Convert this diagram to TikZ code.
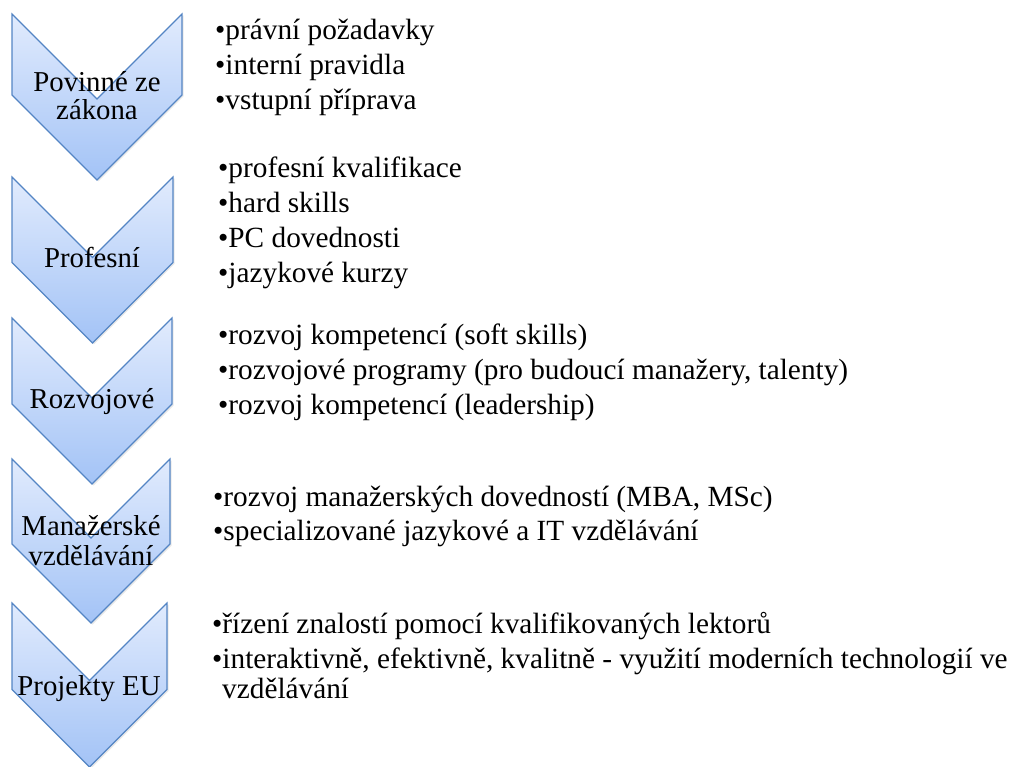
\documentclass[tikz,border=0pt]{standalone}
\usepackage{fontspec}
\setmainfont{Liberation Serif}
\usetikzlibrary{shadows}
\definecolor{chevline}{RGB}{84,133,196}
\definecolor{chevtop}{RGB}{225,235,253}
\definecolor{chevbot}{RGB}{163,195,246}
% downward chevron: left x, top y, width, height
\newcommand\downchevron[4]{%
  \pgfmathsetmacro\hw{#3/2}%
  \path[chevshape] (#1,#2) -- (#1+\hw,#2+\hw) -- (#1+#3,#2)
    -- (#1+#3,#2+#4-\hw) -- (#1+\hw,#2+#4) -- (#1,#2+#4-\hw) -- cycle;}
\begin{document}
\begin{tikzpicture}[x=1pt,y=-1pt,
  chevshape/.style={draw=chevline, line width=1.2pt, line join=miter,
    top color=chevtop, bottom color=chevbot,
    drop shadow={opacity=0.18, shadow xshift=1.5pt, shadow yshift=-1.5pt}},
  chevlabel/.style={font=\fontsize{28.8}{29}\selectfont, anchor=base, inner sep=0pt},
  item/.style={font=\fontsize{29.3}{35}\selectfont, anchor=base west, inner sep=0pt}]
\useasboundingbox (0,0) rectangle (1013,767);

% chevrons
\downchevron{12}{14}{170}{166}
\downchevron{12}{177}{161}{166}
\downchevron{12}{318}{160}{166}
\downchevron{12}{459}{158}{164}
\downchevron{12}{603}{155}{164}

% chevron labels
\node[chevlabel] (c1a) at (97,92) {Povinné ze};
\node[chevlabel] (c1b) at (97,120) {zákona};
\node[chevlabel] (c2) at (92,268) {Profesní};
\node[chevlabel] (c3) at (92,409) {Rozvojové};
\node[chevlabel] (c4a) at (91,535) {Manažerské};
\node[chevlabel] (c4b) at (91,565) {vzdělávání};
\node[chevlabel] (c5) at (89,695) {Projekty EU};

% bullet lists
\node[item] (a1) at (215,40)  {•právní požadavky};
\node[item] (a2) at (215,75)  {•interní pravidla};
\node[item] (a3) at (215,110) {•vstupní příprava};

\node[item] (b1) at (218,178) {•profesní kvalifikace};
\node[item] (b2) at (218,213) {•hard skills};
\node[item] (b3) at (218,248) {•PC dovednosti};
\node[item] (b4) at (218,283) {•jazykové kurzy};

\node[item] (r1) at (218,345) {•rozvoj kompetencí (soft skills)};
\node[item] (r2) at (218,380) {•rozvojové programy (pro budoucí manažery, talenty)};
\node[item] (r3) at (218,415) {•rozvoj kompetencí (leadership)};

\node[item] (m1) at (213,507) {•rozvoj manažerských dovedností (MBA, MSc)};
\node[item] (m2) at (213,540) {•specializované jazykové a IT vzdělávání};

\node[item] (e1) at (212,633) {•řízení znalostí pomocí kvalifikovaných lektorů};
\node[item] (e2) at (212,668) {•interaktivně, efektivně, kvalitně - využití moderních technologií ve};
\node[item] (e3) at (222,698) {vzdělávání};
\end{tikzpicture}
\end{document}
